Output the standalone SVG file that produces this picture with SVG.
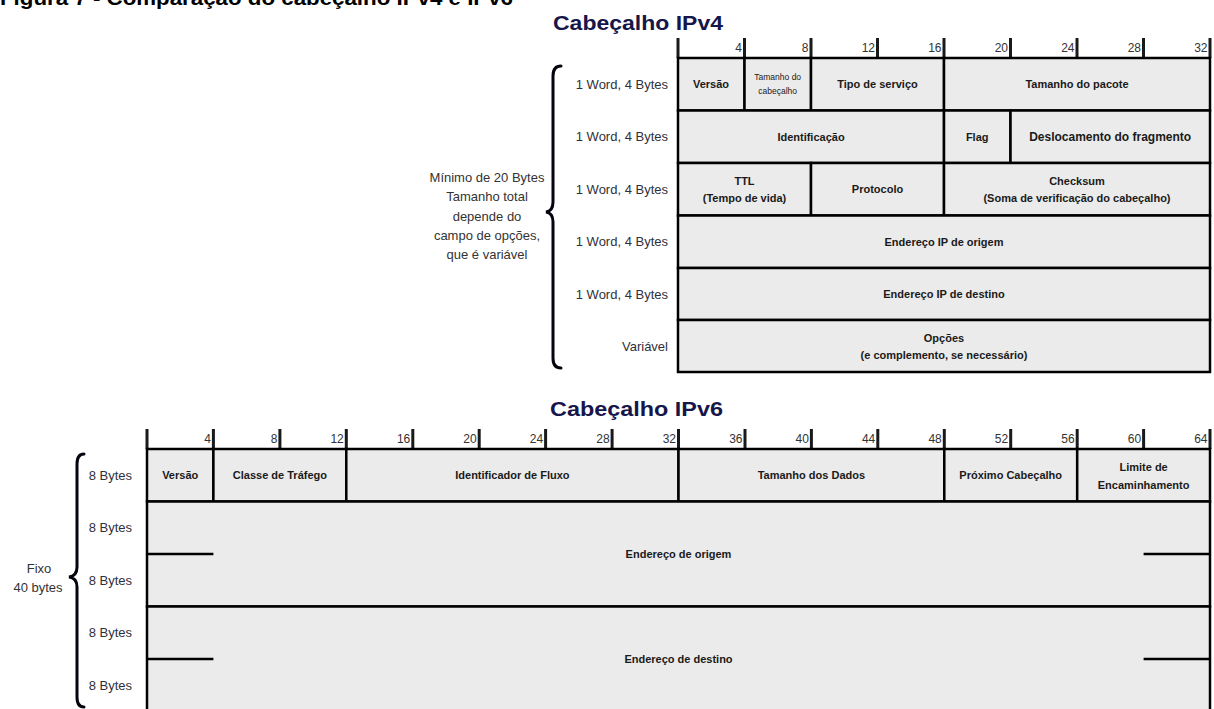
<svg xmlns="http://www.w3.org/2000/svg" width="1214" height="709" viewBox="0 0 1214 709">
<style>
.cell{fill:#ebebeb;stroke:#000;stroke-width:2.5}
.f{font-family:"Liberation Sans",Arial,sans-serif;font-weight:bold;font-size:11px;fill:#1a1a1a;text-anchor:middle}
.sm{font-family:"Liberation Sans",Arial,sans-serif;font-size:8.5px;fill:#1a1a1a;text-anchor:middle}
.rl{font-family:"Liberation Sans",Arial,sans-serif;font-size:13px;fill:#30303a;text-anchor:end}
.side{font-family:"Liberation Sans",Arial,sans-serif;font-size:13px;fill:#333;text-anchor:middle}
.num{font-family:"Liberation Sans",Arial,sans-serif;font-size:12px;fill:#333;text-anchor:end}
.tick{stroke:#1a1a1a;stroke-width:3}
.title{font-family:"Liberation Sans",Arial,sans-serif;font-weight:bold;font-size:20px;fill:#16164a}
.brace{fill:none;stroke:#05050f;stroke-width:3;stroke-linecap:round}
.half{stroke:#000;stroke-width:2.5}
</style>

<text x="0" y="5" font-family="Liberation Sans, Arial, sans-serif" font-weight="bold" font-size="20" fill="#000" textLength="513" lengthAdjust="spacingAndGlyphs">Figura 7 - Comparação do cabeçalho IPv4 e IPv6</text>

<!-- IPv4 -->
<text class="title" x="553" y="30" textLength="170" lengthAdjust="spacingAndGlyphs">Cabeçalho IPv4</text>
<g id="ipv4-ruler">
<line class="tick" x1="678" y1="38" x2="678" y2="58"/>
<line class="tick" x1="744.5" y1="38" x2="744.5" y2="58"/><text class="num" x="742" y="52">4</text>
<line class="tick" x1="811" y1="38" x2="811" y2="58"/><text class="num" x="808.5" y="52">8</text>
<line class="tick" x1="877.5" y1="38" x2="877.5" y2="58"/><text class="num" x="875" y="52">12</text>
<line class="tick" x1="944" y1="38" x2="944" y2="58"/><text class="num" x="941.5" y="52">16</text>
<line class="tick" x1="1010.5" y1="38" x2="1010.5" y2="58"/><text class="num" x="1008" y="52">20</text>
<line class="tick" x1="1077" y1="38" x2="1077" y2="58"/><text class="num" x="1074.5" y="52">24</text>
<line class="tick" x1="1143.5" y1="38" x2="1143.5" y2="58"/><text class="num" x="1141" y="52">28</text>
<line class="tick" x1="1210" y1="38" x2="1210" y2="58"/><text class="num" x="1207.5" y="52">32</text>
</g>

<g id="v4-versao"><rect class="cell" x="678" y="58" width="66.5" height="52.5"/><text class="f" x="711" y="88">Versão</text></g>
<g id="v4-tamcab"><rect class="cell" x="744.5" y="58" width="66.5" height="52.5"/><text class="sm" x="777.7" y="80">Tamanho do</text><text class="sm" x="777.7" y="94">cabeçalho</text></g>
<g id="v4-tipo"><rect class="cell" x="811" y="58" width="133" height="52.5"/><text class="f" x="877.5" y="88">Tipo de serviço</text></g>
<g id="v4-tampac"><rect class="cell" x="944" y="58" width="266" height="52.5"/><text class="f" x="1077" y="88">Tamanho do pacote</text></g>

<g id="v4-ident"><rect class="cell" x="678" y="110.5" width="266" height="52.5"/><text class="f" x="811" y="140.5">Identificação</text></g>
<g id="v4-flag"><rect class="cell" x="944" y="110.5" width="66.5" height="52.5"/><text class="f" x="977.2" y="140.5">Flag</text></g>
<g id="v4-desl"><rect class="cell" x="1010.5" y="110.5" width="199.5" height="52.5"/><text class="f" x="1110.2" y="140.5" style="font-size:12px">Deslocamento do fragmento</text></g>

<g id="v4-ttl"><rect class="cell" x="678" y="163" width="133" height="52.5"/><text class="f" x="744.5" y="185">TTL</text><text class="f" x="744.5" y="202">(Tempo de vida)</text></g>
<g id="v4-proto"><rect class="cell" x="811" y="163" width="133" height="52.5"/><text class="f" x="877.5" y="193">Protocolo</text></g>
<g id="v4-check"><rect class="cell" x="944" y="163" width="266" height="52.5"/><text class="f" x="1077" y="185">Checksum</text><text class="f" x="1077" y="202">(Soma de verificação do cabeçalho)</text></g>

<g id="v4-orig"><rect class="cell" x="678" y="215.5" width="532" height="52.5"/><text class="f" x="944" y="245.5">Endereço IP de origem</text></g>
<g id="v4-dest"><rect class="cell" x="678" y="268" width="532" height="52"/><text class="f" x="944" y="298">Endereço IP de destino</text></g>
<g id="v4-opc"><rect class="cell" x="678" y="320" width="532" height="52"/><text class="f" x="944" y="342">Opções</text><text class="f" x="944" y="359">(e complemento, se necessário)</text></g>

<g id="v4-labels">
<text class="rl" x="668" y="88.5">1 Word, 4 Bytes</text>
<text class="rl" x="668" y="141">1 Word, 4 Bytes</text>
<text class="rl" x="668" y="193.5">1 Word, 4 Bytes</text>
<text class="rl" x="668" y="246">1 Word, 4 Bytes</text>
<text class="rl" x="668" y="298.5">1 Word, 4 Bytes</text>
<text class="rl" x="668" y="350.5">Variável</text>
</g>
<g id="v4-brace">
<path class="brace" d="M561 66 Q553 66 553 76 L553 202 Q553 211 546 212 Q553 213 553 222 L553 358 Q553 368 561 368"/>
<text class="side" x="487" y="182">Mínimo de 20 Bytes</text>
<text class="side" x="487" y="201">Tamanho total</text>
<text class="side" x="487" y="221">depende do</text>
<text class="side" x="487" y="240">campo de opções,</text>
<text class="side" x="487" y="259">que é variável</text>
</g>

<!-- IPv6 -->
<text class="title" x="550" y="416" textLength="173" lengthAdjust="spacingAndGlyphs">Cabeçalho IPv6</text>
<g id="ipv6-ruler">
<line class="tick" x1="147" y1="429" x2="147" y2="449"/>
<line class="tick" x1="213.4" y1="429" x2="213.4" y2="449"/><text class="num" x="211" y="443">4</text>
<line class="tick" x1="279.9" y1="429" x2="279.9" y2="449"/><text class="num" x="277.4" y="443">8</text>
<line class="tick" x1="346.3" y1="429" x2="346.3" y2="449"/><text class="num" x="343.8" y="443">12</text>
<line class="tick" x1="412.8" y1="429" x2="412.8" y2="449"/><text class="num" x="410.3" y="443">16</text>
<line class="tick" x1="479.2" y1="429" x2="479.2" y2="449"/><text class="num" x="476.7" y="443">20</text>
<line class="tick" x1="545.6" y1="429" x2="545.6" y2="449"/><text class="num" x="543.1" y="443">24</text>
<line class="tick" x1="612.1" y1="429" x2="612.1" y2="449"/><text class="num" x="609.6" y="443">28</text>
<line class="tick" x1="678.5" y1="429" x2="678.5" y2="449"/><text class="num" x="676" y="443">32</text>
<line class="tick" x1="745" y1="429" x2="745" y2="449"/><text class="num" x="742.5" y="443">36</text>
<line class="tick" x1="811.4" y1="429" x2="811.4" y2="449"/><text class="num" x="808.9" y="443">40</text>
<line class="tick" x1="877.8" y1="429" x2="877.8" y2="449"/><text class="num" x="875.3" y="443">44</text>
<line class="tick" x1="944.3" y1="429" x2="944.3" y2="449"/><text class="num" x="941.8" y="443">48</text>
<line class="tick" x1="1010.7" y1="429" x2="1010.7" y2="449"/><text class="num" x="1008.2" y="443">52</text>
<line class="tick" x1="1077.2" y1="429" x2="1077.2" y2="449"/><text class="num" x="1074.7" y="443">56</text>
<line class="tick" x1="1143.6" y1="429" x2="1143.6" y2="449"/><text class="num" x="1141.1" y="443">60</text>
<line class="tick" x1="1210" y1="429" x2="1210" y2="449"/><text class="num" x="1207.5" y="443">64</text>
</g>

<g id="v6-versao"><rect class="cell" x="147" y="449" width="66.4" height="52.5"/><text class="f" x="180.2" y="479">Versão</text></g>
<g id="v6-classe"><rect class="cell" x="213.4" y="449" width="132.9" height="52.5"/><text class="f" x="279.9" y="479">Classe de Tráfego</text></g>
<g id="v6-fluxo"><rect class="cell" x="346.3" y="449" width="332.2" height="52.5"/><text class="f" x="512.4" y="479">Identificador de Fluxo</text></g>
<g id="v6-tamdados"><rect class="cell" x="678.5" y="449" width="265.8" height="52.5"/><text class="f" x="811.4" y="479">Tamanho dos Dados</text></g>
<g id="v6-proximo"><rect class="cell" x="944.3" y="449" width="132.9" height="52.5"/><text class="f" x="1010.7" y="479">Próximo Cabeçalho</text></g>
<g id="v6-limite"><rect class="cell" x="1077.2" y="449" width="132.8" height="52.5"/><text class="f" x="1143.6" y="471">Limite de</text><text class="f" x="1143.6" y="489">Encaminhamento</text></g>

<g id="v6-origem"><rect class="cell" x="147" y="501.5" width="1063" height="105"/>
<line class="half" x1="147" y1="554" x2="213.4" y2="554"/><line class="half" x1="1143.6" y1="554" x2="1210" y2="554"/>
<text class="f" x="678.5" y="558">Endereço de origem</text></g>
<g id="v6-destino"><rect class="cell" x="147" y="606.5" width="1063" height="106"/>
<line class="half" x1="147" y1="659" x2="213.4" y2="659"/><line class="half" x1="1143.6" y1="659" x2="1210" y2="659"/>
<text class="f" x="678.5" y="663">Endereço de destino</text></g>

<g id="v6-labels">
<text class="rl" x="132" y="479.5">8 Bytes</text>
<text class="rl" x="132" y="532">8 Bytes</text>
<text class="rl" x="132" y="584.5">8 Bytes</text>
<text class="rl" x="132" y="637">8 Bytes</text>
<text class="rl" x="132" y="689.5">8 Bytes</text>
</g>
<g id="v6-brace">
<path class="brace" d="M84 454 Q77 454 77 464 L77 567 Q77 576 69 577 Q77 578 77 587 L77 697 Q77 707 84 707"/>
<text class="side" x="39" y="573">Fixo</text>
<text class="side" x="38" y="592">40 bytes</text>
</g>
</svg>
